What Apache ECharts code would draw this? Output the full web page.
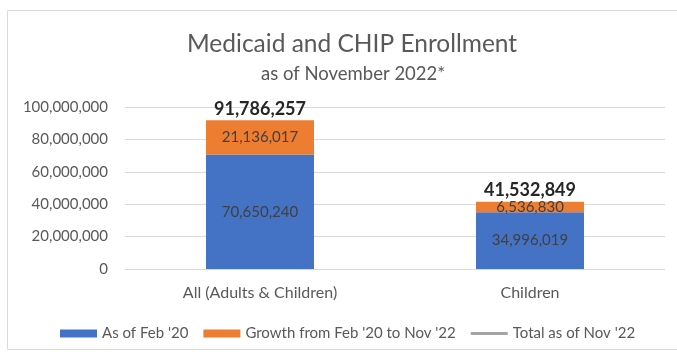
<!DOCTYPE html>
<html><head><meta charset="utf-8">
<script src="https://cdn.jsdelivr.net/npm/echarts@6/dist/echarts.min.js"></script>
<style>html,body{margin:0;padding:0;background:#fff}#c{width:677px;height:352px}</style>
</head><body><div id="c"></div>
<script>
var categories = ["All (Adults & Children)", "Children"];
var baseFeb20 = [70650240, 34996019];
var growth = [21136017, 6536830];
var totalNov22 = [91786257, 41532849];
var yTicks = [0, 20000000, 40000000, 60000000, 80000000, 100000000];

var FONT = "Lato";
function fmt(v){ return Number(v).toLocaleString('en-US'); }
var chart = echarts.init(document.getElementById('c'), null, {renderer:'canvas'});
chart.setOption({
  animation:false,
  textStyle:{fontFamily:FONT},
  graphic:[{type:'rect', shape:{x:7.5,y:10.5,width:700,height:339}, style:{fill:'none', stroke:'#d9d9d9', lineWidth:1}}],
  title:[{text:'Medicaid and CHIP Enrollment', left:182, top:27, textStyle:{fontFamily:FONT, fontSize:24.5, fontWeight:'normal', color:'#595959'}},
         {text:'as of November 2022*', left:256, top:60, textStyle:{fontFamily:FONT, fontSize:18.5, fontWeight:'normal', color:'#595959'}}],
  legend:{top:321, left:55, itemWidth:37, itemHeight:8, itemGap:15, symbolKeepAspect:true,
    textStyle:{fontFamily:FONT, fontSize:15, color:'#595959'},
    data:[{name:"As of Feb '20", icon:'rect'}, {name:"Growth from Feb '20 to Nov '22", icon:'rect'},
          {name:"Total as of Nov '22", icon:'path://M0,0 L37,0 L37,3 L0,3 Z', itemStyle:{color:'#A5A5A5', opacity:1}}]},
  grid:{left:125, right:12, top:107, bottom:83},
  xAxis:{type:'category', data:categories, axisLine:{show:false}, axisTick:{show:false},
    axisLabel:{fontFamily:FONT, fontSize:16, color:'#595959', margin:16}},
  yAxis:{type:'value', min:0, max:100000000, interval:20000000,
    axisLabel:{fontFamily:FONT, fontSize:15, color:'#595959', margin:17, formatter:function(v){return fmt(v);}},
    splitLine:{lineStyle:{color:'#d9d9d9'}}, axisLine:{show:false}, axisTick:{show:false}},
  series:[
    {name:"As of Feb '20", type:'bar', stack:'s', barWidth:'40%', data:baseFeb20, itemStyle:{color:'#4472C4'},
     label:{show:true, position:'inside', fontFamily:FONT, fontSize:15, color:'#404040', formatter:function(p){return fmt(p.value);}}},
    {name:"Growth from Feb '20 to Nov '22", type:'bar', stack:'s', data:growth, itemStyle:{color:'#ED7D31'},
     label:{show:true, position:'inside', fontFamily:FONT, fontSize:15, color:'#404040', formatter:function(p){return fmt(p.value);}}},
    {name:"Total as of Nov '22", type:'line', data:totalNov22, symbol:'circle', symbolSize:1, showSymbol:true,
     lineStyle:{color:'#A5A5A5', width:3, opacity:0}, itemStyle:{color:'#A5A5A5', opacity:0},
     label:{show:true, position:'top', distance:2, opacity:1, fontFamily:FONT, fontSize:18, fontWeight:'bold', color:'#262626', formatter:function(p){return fmt(p.value);}}}
  ]
});
</script></body></html>
